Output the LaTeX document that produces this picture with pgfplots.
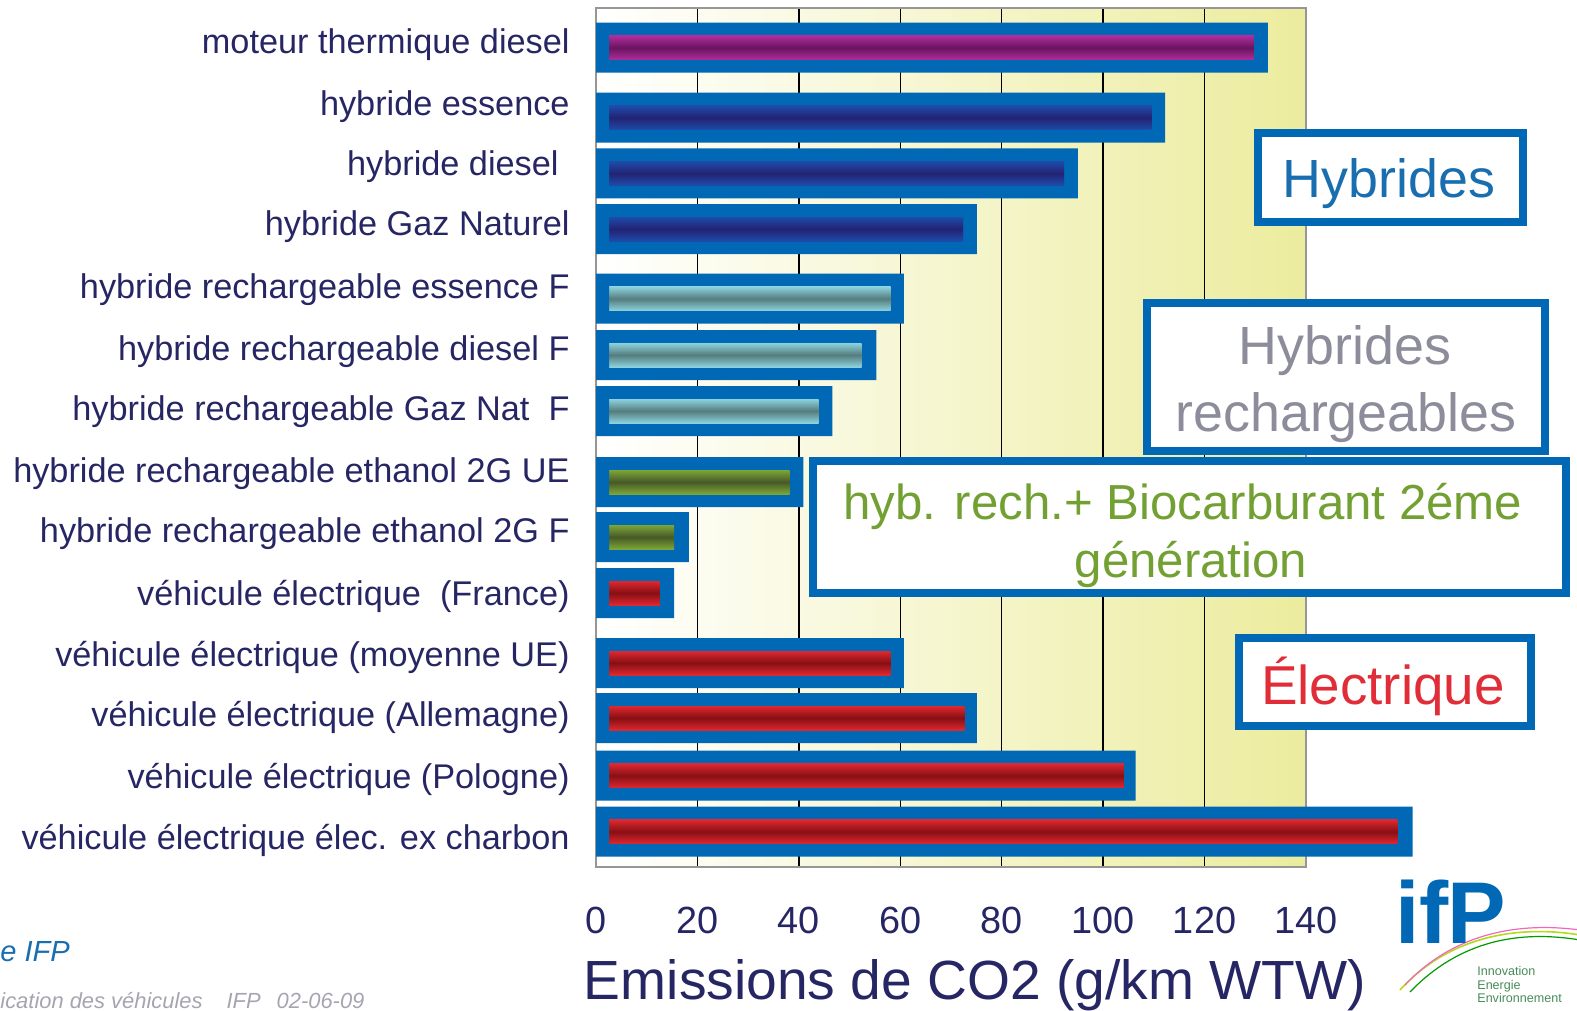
\documentclass[border=0pt]{standalone}
\usepackage{pgfplots}
\pgfplotsset{compat=1.18}
\usepackage{fontspec}
\setmainfont{Liberation Sans}
\definecolor{ifpblue}{RGB}{0,104,180}
\definecolor{navytext}{RGB}{38,38,100}
\definecolor{bgyel}{RGB}{236,236,158}
\definecolor{framegrey}{RGB}{150,150,150}
\definecolor{purpE}{RGB}{175,45,155}
\definecolor{purpC}{RGB}{105,20,95}
\definecolor{dblE}{RGB}{30,75,170}
\definecolor{dblC}{RGB}{35,35,115}
\definecolor{tealE}{RGB}{140,210,222}
\definecolor{tealC}{RGB}{85,125,125}
\definecolor{grnE}{RGB}{125,165,55}
\definecolor{grnC}{RGB}{70,90,40}
\definecolor{redE}{RGB}{222,40,48}
\definecolor{redC}{RGB}{135,15,20}
\definecolor{hybblue}{RGB}{25,110,175}
\definecolor{hrgrey}{RGB}{140,140,155}
\definecolor{biogreen}{RGB}{115,160,50}
\definecolor{elecred}{RGB}{225,45,55}
\definecolor{footgrey}{RGB}{165,165,175}
\pgfplotsset{
  innerbar/.style n args={2}{xbar, bar width=12bp, bar shift=0pt, draw=none,
    top color=#1, bottom color=#1, middle color=#2},
}
\begin{document}
\begin{tikzpicture}
\useasboundingbox (0,0) rectangle (788.5bp,-505.5bp);
\begin{axis}[
  at={(298bp,-433.5bp)}, anchor=south west,
  scale only axis, width=355bp, height=429.5bp,
  xmin=0, xmax=140, ymin=8, ymax=867, y dir=reverse,
  clip=false,
  axis background/.style={shade, left color=white, right color=bgyel},
  axis line style={draw=framegrey, line width=1bp},
  xtick={0,20,...,140},
  xmajorgrids, major grid style={black, line width=0.7bp},
  major tick length=0pt,
  /pgf/number format/assume math mode=true,
  xticklabel style={anchor=center, yshift=-26.5bp, font=\fontsize{19}{22}\selectfont, text=navytext},
  ytick={53,115,175,235,298,360,420,482,542,605,666,726,788,849},
  yticklabels={moteur thermique diesel, hybride essence, hybride diesel\hspace*{5.5bp}, hybride Gaz Naturel, hybride rechargeable essence F, hybride rechargeable diesel F, hybride rechargeable Gaz Nat\ \ F, hybride rechargeable ethanol 2G UE, hybride rechargeable ethanol 2G F, véhicule électrique\ \ (France), véhicule électrique (moyenne UE), véhicule électrique (Allemagne), véhicule électrique (Pologne), véhicule électrique élec. ex charbon},
  yticklabel style={anchor=base east, inner sep=0pt, xshift=-13bp, font=\fontsize{17.2}{20}\selectfont, text=navytext},
]
% outer blue bars
\addplot[xbar, bar width=25bp, bar shift=0pt, fill=ifpblue, draw=none] coordinates {
 (132.5,47.7) (112.2,117.7) (95.0,173.3) (75.1,229) (60.7,298.7) (55.3,355) (46.6,411)
 (40.9,482) (18.3,537) (15.4,593) (60.7,663) (75.1,718) (106.4,775.7) (161.0,831.7)};
% inner shaded bars (one plot per bar so each bar gets its own shading)
\addplot[innerbar={purpE}{purpC}] coordinates {(129.7,47.7)};
\addplot[innerbar={dblE}{dblC}] coordinates {(109.5,117.7)};
\addplot[innerbar={dblE}{dblC}] coordinates {(92.3,173.3)};
\addplot[innerbar={dblE}{dblC}] coordinates {(72.4,229)};
\addplot[innerbar={tealE}{tealC}] coordinates {(58.1,298.7)};
\addplot[innerbar={tealE}{tealC}] coordinates {(52.4,355)};
\addplot[innerbar={tealE}{tealC}] coordinates {(43.9,411)};
\addplot[innerbar={grnE}{grnC}] coordinates {(38.2,482)};
\addplot[innerbar={grnE}{grnC}] coordinates {(15.4,537)};
\addplot[innerbar={redE}{redC}] coordinates {(12.6,593)};
\addplot[innerbar={redE}{redC}] coordinates {(58.1,663)};
\addplot[innerbar={redE}{redC}] coordinates {(72.7,718)};
\addplot[innerbar={redE}{redC}] coordinates {(104.1,775.7)};
\addplot[innerbar={redE}{redC}] coordinates {(158.0,831.7)};
% blue start caps
\addplot[xbar, bar width=13bp, bar shift=0pt, fill=ifpblue, draw=none] coordinates {
 (2.6,47.7) (2.6,117.7) (2.6,173.3) (2.6,229) (2.6,298.7) (2.6,355) (2.6,411)
 (2.6,482) (2.6,537) (2.6,593) (2.6,663) (2.6,718) (2.6,775.7) (2.6,831.7)};
\end{axis}
\begin{scope}[x=0.5bp, y=-0.5bp]
% category boxes
\draw[ifpblue, line width=4bp, fill=white] (1258,133) rectangle (1523,222);
\node[anchor=base, text=hybblue, font=\fontsize{27}{30}\selectfont] at (1389,198) {Hybrides};
\draw[ifpblue, line width=4bp, fill=white] (1147,303) rectangle (1545,451);
\node[anchor=base, text=hrgrey, font=\fontsize{27}{30}\selectfont] at (1345,365) {Hybrides};
\node[anchor=base, text=hrgrey, font=\fontsize{27}{30}\selectfont] at (1346,432) {rechargeables};
\draw[ifpblue, line width=4bp, fill=white] (813,461) rectangle (1566,593);
\node[anchor=base, text=biogreen, font=\fontsize{24.7}{28}\selectfont] at (1183,520) {hyb. rech.+ Biocarburant 2éme};
\node[anchor=base, text=biogreen, font=\fontsize{24.7}{28}\selectfont] at (1191,578) {génération};
\draw[ifpblue, line width=4bp, fill=white] (1239,638) rectangle (1531,726);
\node[anchor=base, text=elecred, font=\fontsize{27.5}{30}\selectfont] at (1383,705) {Électrique};
% axis title
\node[anchor=base, text=navytext, font=\fontsize{27.7}{32}\selectfont] at (975,1000) {Emissions de CO2 (g/km WTW)};
% footer
\node[anchor=base west, inner sep=0pt, text=hybblue, font=\fontsize{14.6}{16}\itshape] at (0,962) {e IFP};
\node[anchor=base west, inner sep=0pt, text=footgrey, font=\fontsize{11}{12}\itshape] at (0,1009) {ication des véhicules\hspace{12bp}IFP\hspace{8bp}02-06-09};
% logo
\draw[line width=0.8bp, yellow!70!green] (1400,990) .. controls (1450,935) and (1520,925) .. (1580,935);
\draw[line width=0.6bp, magenta!60] (1405,985) .. controls (1455,932) and (1520,922) .. (1580,930);
\draw[line width=0.6bp, green!60!black] (1410,992) .. controls (1460,940) and (1520,930) .. (1580,940);
\node[anchor=base west, inner sep=0pt, text=ifpblue, font=\fontsize{44}{44}\bfseries] at (1395,944) {if\kern-1bp P};
\node[anchor=north west, inner sep=0pt, align=left, text={rgb,255:red,70;green,140;blue,90}, font=\fontsize{6.3}{6.8}\selectfont] at (1477,966) {Innovation\\Energie\\Environnement};
\end{scope}
\end{tikzpicture}
\end{document}
